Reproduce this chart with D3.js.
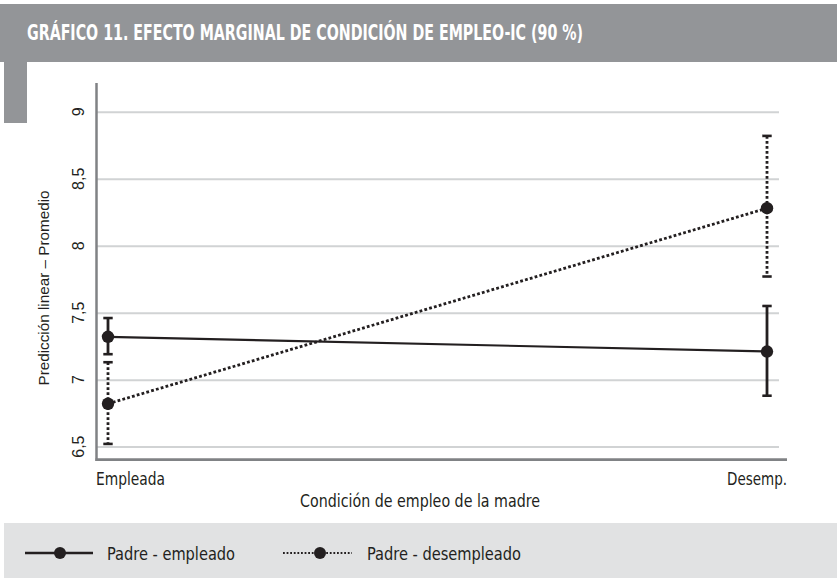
<!DOCTYPE html>
<html>
<head>
<meta charset="utf-8">
<script src="https://cdn.jsdelivr.net/npm/d3@7"></script>
<style>
  body { margin: 0; background: #fff; }
  svg { display: block; }
</style>
</head>
<body>
<svg id="chart" width="837" height="578"></svg>
<script>
// data
const categories = ["Empleada", "Desemp."];
const seriesNames = ["Padre - empleado", "Padre - desempleado"];
const empleadoMean = [7.32, 7.21];
const empleadoLow = [7.19, 6.88];
const empleadoHigh = [7.46, 7.55];
const desempleadoMean = [6.82, 8.28];
const desempleadoLow = [6.52, 7.77];
const desempleadoHigh = [7.13, 8.82];
const yTicks = [6.5, 7, 7.5, 8, 8.5, 9];

const condensed = "'DejaVu Sans Condensed', Roboto, sans-serif";
const plain = "'Liberation Sans', Arial, sans-serif";
const ink = "#231f20";

const svg = d3.select("#chart");

// header band + left tab
svg.append("rect").attr("x", 0).attr("y", 4).attr("width", 837).attr("height", 58).attr("fill", "#939598");
svg.append("rect").attr("x", 4).attr("y", 60).attr("width", 23).attr("height", 63).attr("fill", "#939598");
svg.append("text")
  .attr("x", 27).attr("y", 39.5)
  .attr("font-family", condensed).attr("font-weight", "bold").attr("font-size", 22)
  .attr("fill", "#fff")
  .attr("textLength", 556).attr("lengthAdjust", "spacingAndGlyphs")
  .text("GRÁFICO 11. EFECTO MARGINAL DE CONDICIÓN DE EMPLEO-IC (90 %)");

// scales
const y = d3.scaleLinear().domain([6.4, 9.2]).range([460, 85]);
const x = d3.scalePoint().domain(categories).range([108, 767]);
const fmt = d3.formatLocale({ decimal: ",", thousands: ".", grouping: [3], currency: ["", "€"] }).format("~g");

// gridlines
const grid = svg.append("g")
  .attr("transform", "translate(97,0)")
  .call(d3.axisRight(y).tickValues(yTicks).tickSize(682).tickFormat(""));
grid.select(".domain").remove();
grid.selectAll("line").attr("stroke", "#d1d3d4").attr("stroke-width", 2);

// axis lines
svg.append("line").attr("x1", 96.5).attr("x2", 96.5).attr("y1", 83).attr("y2", 461)
  .attr("stroke", "#808285").attr("stroke-width", 2.5);
svg.append("line").attr("x1", 95.5).attr("x2", 787).attr("y1", 459.7).attr("y2", 459.7)
  .attr("stroke", "#808285").attr("stroke-width", 2.7);

// y tick labels, rotated
svg.append("g").selectAll("text")
  .data(yTicks)
  .join("text")
  .attr("transform", d => `translate(83.5,${y(d)}) rotate(-90)`)
  .attr("text-anchor", "middle")
  .attr("font-family", plain).attr("font-size", 16).attr("fill", ink)
  .text(d => fmt(d));

svg.append("text")
  .attr("transform", "translate(48.5,288) rotate(-90)")
  .attr("text-anchor", "middle")
  .attr("font-family", plain).attr("font-size", 15).attr("fill", ink)
  .attr("textLength", 195).attr("lengthAdjust", "spacingAndGlyphs")
  .text("Predicción linear – Promedio");

// x labels at the ends of the axis
svg.append("text")
  .attr("x", 96).attr("y", 485)
  .attr("font-family", condensed).attr("font-size", 17).attr("fill", ink)
  .attr("textLength", 69).attr("lengthAdjust", "spacingAndGlyphs")
  .text(categories[0]);
svg.append("text")
  .attr("x", 727).attr("y", 485)
  .attr("font-family", condensed).attr("font-size", 17).attr("fill", ink)
  .attr("textLength", 60).attr("lengthAdjust", "spacingAndGlyphs")
  .text(categories[1]);
svg.append("text")
  .attr("x", 300).attr("y", 507)
  .attr("font-family", condensed).attr("font-size", 17.5).attr("font-weight", 500).attr("fill", ink)
  .attr("textLength", 240).attr("lengthAdjust", "spacingAndGlyphs")
  .text("Condición de empleo de la madre");

// series
const series = [
  { name: seriesNames[0], mean: empleadoMean, low: empleadoLow, high: empleadoHigh, dash: null, width: 2.2 },
  { name: seriesNames[1], mean: desempleadoMean, low: desempleadoLow, high: desempleadoHigh, dash: "2.8,2.2", width: 2.8 }
];

const line = d3.line().x((d, i) => x(categories[i])).y(d => y(d));

series.forEach(s => {
  const g = svg.append("g");
  const pts = categories.map((c, i) => ({ c: c, m: s.mean[i], lo: s.low[i], hi: s.high[i] }));

  g.selectAll(".err")
    .data(pts)
    .join("line")
    .attr("x1", d => x(d.c)).attr("x2", d => x(d.c))
    .attr("y1", d => y(d.hi)).attr("y2", d => y(d.lo))
    .attr("stroke", ink).attr("stroke-width", 2.8)
    .attr("stroke-dasharray", s.dash);

  g.selectAll(".cap")
    .data(pts.flatMap(d => [{ c: d.c, v: d.hi }, { c: d.c, v: d.lo }]))
    .join("line")
    .attr("x1", d => x(d.c) - 4.7).attr("x2", d => x(d.c) + 4.7)
    .attr("y1", d => y(d.v)).attr("y2", d => y(d.v))
    .attr("stroke", ink).attr("stroke-width", 2.6);

  g.append("path")
    .datum(s.mean)
    .attr("d", line)
    .attr("fill", "none")
    .attr("stroke", ink).attr("stroke-width", s.width)
    .attr("stroke-dasharray", s.dash);

  g.selectAll("circle")
    .data(pts)
    .join("circle")
    .attr("cx", d => x(d.c)).attr("cy", d => y(d.m))
    .attr("r", 6.2)
    .attr("fill", ink);
});

// legend band
svg.append("rect").attr("x", 4).attr("y", 523).attr("width", 833).attr("height", 55).attr("fill", "#e1e2e3");

const legend = svg.append("g");
const legendItems = [
  { name: seriesNames[0], x0: 25, x1: 93, cx: 60, tx: 107, tw: 128, dash: null, w: 2.6 },
  { name: seriesNames[1], x0: 283, x1: 352, cx: 320, tx: 367, tw: 154, dash: "1.8,1.8", w: 1.8 }
];
legendItems.forEach(d => {
  legend.append("line")
    .attr("x1", d.x0).attr("x2", d.x1).attr("y1", 553).attr("y2", 553)
    .attr("stroke", ink).attr("stroke-width", d.w)
    .attr("stroke-dasharray", d.dash);
  legend.append("circle").attr("cx", d.cx).attr("cy", 553).attr("r", 6).attr("fill", ink);
  legend.append("text")
    .attr("x", d.tx).attr("y", 560)
    .attr("font-family", condensed).attr("font-size", 17.5).attr("fill", ink)
    .attr("textLength", d.tw).attr("lengthAdjust", "spacingAndGlyphs")
    .text(d.name);
});
</script>
</body>
</html>
